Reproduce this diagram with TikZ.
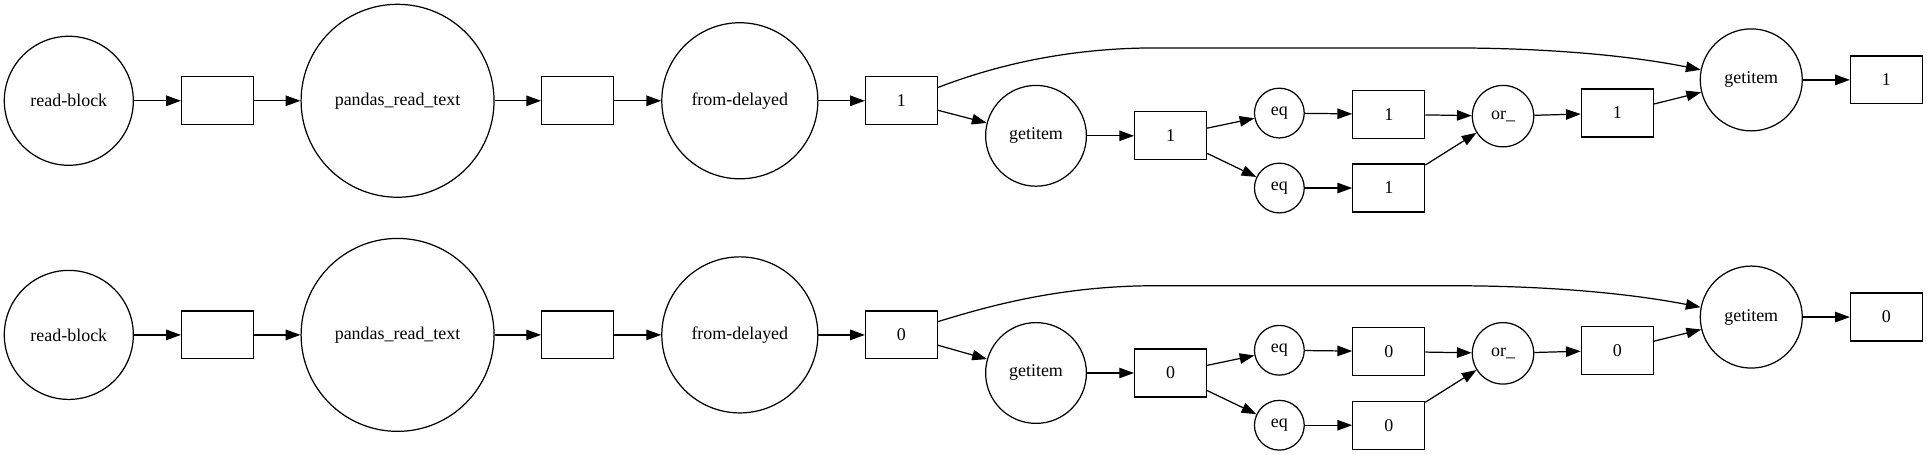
\documentclass[tikz,border=0pt]{standalone}
\usepackage{fontspec}
\setmainfont{Liberation Serif}
\newfontfamily\dotfont{Liberation Serif}
\usetikzlibrary{arrows.meta}
\tikzset{taskblob/.style={
  shape=circle,
  draw=black,
  line width=1pt,
  inner sep=0pt,
  font=\dotfont\fontsize{14.6}{17}\selectfont,
  }
}
\tikzset{keybox/.style={
  shape=rectangle,
  draw=black,
  line width=1pt,
  minimum width=58.5pt,
  minimum height=39pt,
  inner sep=0pt,
  font=\dotfont\fontsize{14.6}{17}\selectfont,
  }
}
\tikzset{dep/.style={
  draw=black,
  line width=1pt,
  -{Triangle[length=12pt,width=8.5pt]},
  }
}
\begin{document}
\begin{tikzpicture}[x=1pt,y=-1pt]
  \useasboundingbox (0,0) rectangle (1568,370);

  \node [taskblob, minimum size=105pt] (rba) at (56,82) {read-block};
  \node [keybox] (k1a) at (177,82) {};
  \node [taskblob, minimum size=157pt] (pra) at (323.5,82) {pandas\_read\_text};
  \node [keybox] (k2a) at (470,82) {};
  \node [taskblob, minimum size=127pt] (fda) at (602,82) {from-delayed};
  \node [keybox] (k3a) at (733.5,82) {1};
  \node [taskblob, minimum size=82pt] (g1a) at (843,110.5) {getitem};
  \node [keybox] (k4a) at (952.5,110.5) {1};
  \node [taskblob, minimum size=40.5pt] (e1a) at (1041,92) {eq};
  \node [taskblob, minimum size=40.5pt] (e2a) at (1041,153) {eq};
  \node [keybox] (k5a) at (1130,93) {1};
  \node [keybox] (k6a) at (1130,153) {1};
  \node [taskblob, minimum size=50pt] (ora) at (1223,94.5) {or\_};
  \node [keybox] (k7a) at (1316,92) {1};
  \node [taskblob, minimum size=83pt] (g2a) at (1425,65) {getitem};
  \node [keybox] (k8a) at (1535,65) {1};

  \draw [dep] (rba) -- (k1a);
  \draw [dep] (k1a) -- (pra);
  \draw [dep] (pra) -- (k2a);
  \draw [dep] (k2a) -- (fda);
  \draw [dep] (fda) -- (k3a);
  \draw [dep] (k3a) -- (g1a);
  \draw [dep] (g1a) -- (k4a);
  \draw [dep] (k4a) -- (e1a);
  \draw [dep] (k4a) -- (e2a);
  \draw [dep] (e1a) -- (k5a);
  \draw [dep] (e2a) -- (k6a);
  \draw [dep] (k5a) -- (ora);
  \draw [dep] (k6a) -- (ora);
  \draw [dep] (ora) -- (k7a);
  \draw [dep] (k7a) -- (g2a);
  \draw [dep] (g2a) -- (k8a);
  \draw [dep] (k3a.20) .. controls (800,57) and (860,39) .. (940,39) -- (1180,39) .. controls (1265,39) and (1330,46) .. (g2a);

  \node [taskblob, minimum size=105pt] (rbb) at (56,272.5) {read-block};
  \node [keybox] (k1b) at (177,272.5) {};
  \node [taskblob, minimum size=157pt] (prb) at (323.5,272.5) {pandas\_read\_text};
  \node [keybox] (k2b) at (470,272.5) {};
  \node [taskblob, minimum size=127pt] (fdb) at (602,272.5) {from-delayed};
  \node [keybox] (k3b) at (733.5,272.5) {0};
  \node [taskblob, minimum size=82pt] (g1b) at (843,303.5) {getitem};
  \node [keybox] (k4b) at (952.5,303.5) {0};
  \node [taskblob, minimum size=40.5pt] (e1b) at (1041,285) {eq};
  \node [taskblob, minimum size=40.5pt] (e2b) at (1041,346) {eq};
  \node [keybox] (k5b) at (1130,286) {0};
  \node [keybox] (k6b) at (1130,346) {0};
  \node [taskblob, minimum size=50pt] (orb) at (1223,287.5) {or\_};
  \node [keybox] (k7b) at (1316,285) {0};
  \node [taskblob, minimum size=83pt] (g2b) at (1425,258) {getitem};
  \node [keybox] (k8b) at (1535,258) {0};

  \draw [dep] (rbb) -- (k1b);
  \draw [dep] (k1b) -- (prb);
  \draw [dep] (prb) -- (k2b);
  \draw [dep] (k2b) -- (fdb);
  \draw [dep] (fdb) -- (k3b);
  \draw [dep] (k3b) -- (g1b);
  \draw [dep] (g1b) -- (k4b);
  \draw [dep] (k4b) -- (e1b);
  \draw [dep] (k4b) -- (e2b);
  \draw [dep] (e1b) -- (k5b);
  \draw [dep] (e2b) -- (k6b);
  \draw [dep] (k5b) -- (orb);
  \draw [dep] (k6b) -- (orb);
  \draw [dep] (orb) -- (k7b);
  \draw [dep] (k7b) -- (g2b);
  \draw [dep] (g2b) -- (k8b);
  \draw [dep] (k3b.20) .. controls (800,250.5) and (860,232.5) .. (940,232.5) -- (1180,232.5) .. controls (1265,232.5) and (1330,239.5) .. (g2b);
\end{tikzpicture}
\end{document}
